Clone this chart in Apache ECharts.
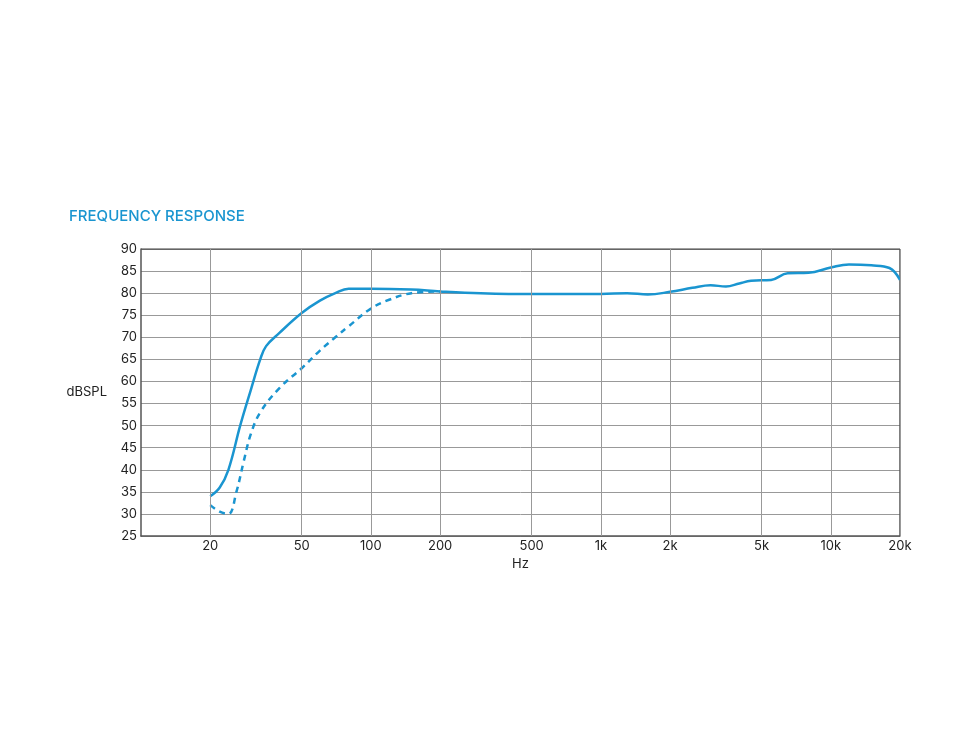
<!DOCTYPE html>
<html><head><meta charset="utf-8">
<script src="https://cdn.jsdelivr.net/npm/echarts@6/dist/echarts.min.js"></script>
<style>html,body{margin:0;background:#fff}#main{width:975px;height:750px}</style>
</head><body><div id="main"></div>
<script>
const solidFreq = [20, 22, 24, 27, 30, 33, 35, 40, 50, 60, 70, 80, 100, 150, 200, 300, 500, 1000, 1300, 1600, 2000, 2500, 3000, 3500, 4000, 4500, 5500, 6500, 8000, 10000, 12000, 15000, 18000, 20000];
const solidDb = [34, 36, 40, 50, 58, 65, 68, 71, 75.5, 78.3, 80, 81, 81, 80.8, 80.4, 80, 79.8, 79.8, 80, 79.7, 80.3, 81.2, 81.8, 81.5, 82.2, 82.8, 83, 84.5, 84.6, 85.8, 86.5, 86.3, 85.7, 83];
const dashFreq = [20, 22, 24, 26, 28, 30, 33, 40, 50, 60, 70, 80, 100, 120, 150, 200];
const dashDb = [32, 30.5, 30, 35, 42, 48, 53, 58.5, 63, 67, 70, 72.5, 76.5, 78.5, 80, 80.4];
const tickFreq = [20, 50, 100, 200, 500, 1000, 2000, 5000, 10000, 20000];
const tickLabels = ['20', '50', '100', '200', '500', '1k', '2k', '5k', '10k', '20k'];

const blue = '#1a95d0';
const font = 'Inter, "Noto Sans", sans-serif';
const myChart = echarts.init(document.getElementById('main'));

const pairs = (xs, ys) => xs.map((x, i) => [x, ys[i]]);

myChart.setOption({
	animation: false,
	title: {
		text: 'FREQUENCY RESPONSE', left: 64, top: 204,
		textStyle: { color: blue, fontSize: 15, fontWeight: 500, fontFamily: font }
	},
	grid: { left: 141, right: 75, top: 249, bottom: 214 },
	xAxis: {
		type: 'log', min: 10, max: 20000,
		name: 'Hz', nameLocation: 'middle', nameGap: 22,
		nameTextStyle: { color: '#222', fontSize: 13, fontFamily: font },
		axisLabel: { show: false }, axisTick: { show: false },
		splitLine: { show: false },
		axisLine: { lineStyle: { color: '#555', width: 1.5 } }
	},
	yAxis: {
		type: 'value', min: 25, max: 90, interval: 5,
		name: 'dBSPL', nameLocation: 'middle', nameGap: 34, nameRotate: 0,
		nameTextStyle: { color: '#222', fontSize: 13, fontFamily: font },
		axisLabel: { color: '#222', fontSize: 13, fontFamily: font, margin: 4 },
		axisTick: { show: false },
		axisLine: { show: true, lineStyle: { color: '#555', width: 1.5 } },
		splitLine: { lineStyle: { color: '#999', width: 1 } }
	},
	series: [
		{
			type: 'line', data: [], silent: true,
			markLine: {
				symbol: 'none', silent: true, animation: false,
				lineStyle: { color: '#999', width: 1, type: 'solid' },
				label: {
					position: 'start', distance: 4, color: '#222', fontSize: 13, fontFamily: font,
					formatter: p => tickLabels[tickFreq.indexOf(p.value)]
				},
				data: tickFreq.map(f => ({ xAxis: f }))
			}
		},
		{
			type: 'line', data: [[20000, 25], [20000, 90]], silent: true, symbol: 'none',
			lineStyle: { color: '#555', width: 1.5 }
		},
		{
			type: 'line', data: [[10, 90], [20000, 90]], silent: true, symbol: 'none',
			lineStyle: { color: '#555', width: 1.5 }
		},
		{
			type: 'line', data: pairs(dashFreq, dashDb), smooth: 0.4, symbol: 'none',
			lineStyle: { color: blue, width: 2.5, type: [6, 5] }
		},
		{
			type: 'line', data: pairs(solidFreq, solidDb), smooth: 0.4, symbol: 'none',
			lineStyle: { color: blue, width: 2.5 }
		}
	]
});
</script></body></html>
